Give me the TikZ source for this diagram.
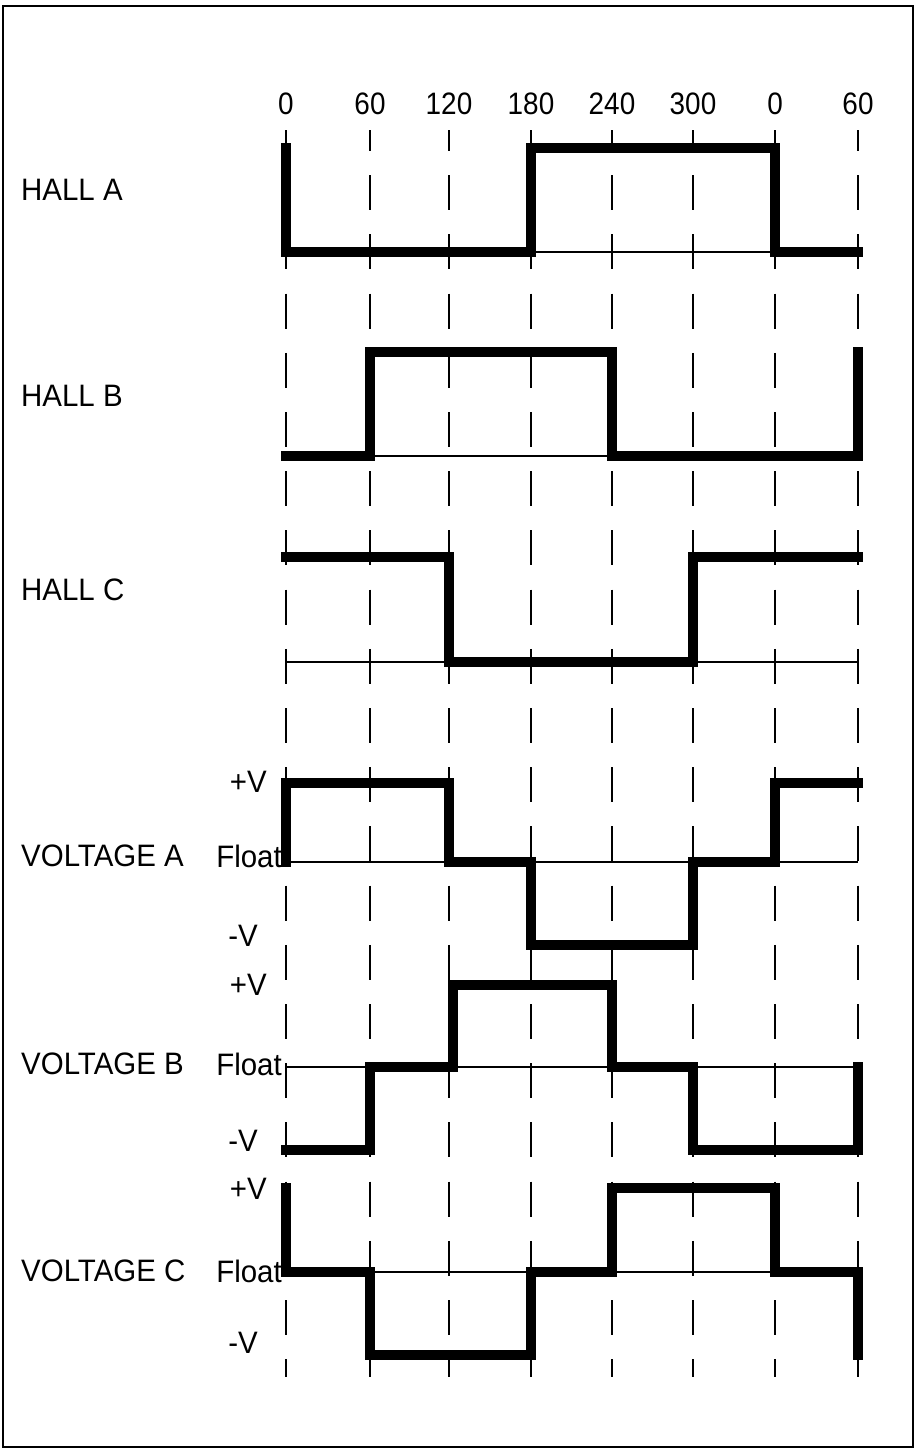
\documentclass[tikz,border=0pt]{standalone}
\usepackage{graphicx}
\usepackage{fontspec}
\setmainfont{Liberation Sans}
\newcommand{\lbltext}[1]{\scalebox{0.95}[1]{#1}}
\begin{document}
\begin{tikzpicture}[x=1pt,y=-1pt,
  wave/.style={line width=10pt, line join=miter, line cap=rect},
  base/.style={line width=1.4pt},
  gridline/.style={line width=1.5pt, dash pattern=on 35pt off 24.2pt, dash phase=14pt},
  lbl/.style={font=\fontsize{31}{31}\selectfont, inner sep=0pt},
  ]
\useasboundingbox (0,0) rectangle (919,1451);
\draw[line width=2pt] (3,6) rectangle (913,1447);
% ticks and dashed grid
\foreach \x/\t [count=\i] in {286/0,370/60,449/120,531/180,612/240,693/300,775/0,858/60}{
  \node[lbl] (t\i) at (\x,104) {\scalebox{0.9}[1]{\t}};
  \coordinate (gt\i) at (\x,130);
  \coordinate (gb\i) at (\x,1377);
  \draw[gridline] (gt\i) -- (gb\i);
}
% row labels
\node[lbl,anchor=west] (ha) at (21,190) {\lbltext{HALL A}};
\node[lbl,anchor=west] (hb) at (21,396) {\lbltext{HALL B}};
\node[lbl,anchor=west] (hc) at (21,590) {\lbltext{HALL C}};
\node[lbl,anchor=west] (va) at (21,856) {\lbltext{VOLTAGE A}};
\node[lbl,anchor=west] (vb) at (21,1064) {\lbltext{VOLTAGE B}};
\node[lbl,anchor=west] (vc) at (21,1271) {\lbltext{VOLTAGE C}};
\foreach \n/\p/\f/\m in {a/782/856/936, b/985/1064/1141, c/1189/1271/1343}{
  \node[lbl,anchor=east] (pv\n) at (267,\p) {\lbltext{+V}};
  \node[lbl,anchor=east] (fl\n) at (282,\f) {\lbltext{Float}};
  \node[lbl,anchor=east] (mv\n) at (258,\m) {\lbltext{-V}};
}
% baselines
\draw[base] (286,252) -- (858,252);
\draw[base] (286,456) -- (858,456);
\draw[base] (286,662) -- (858,662);
\draw[base] (286,862) -- (858,862);
\draw[base] (286,1067) -- (858,1067);
\draw[base] (286,1272) -- (858,1272);
% waveforms
\draw[wave] (286,148) -- (286,252) -- (531,252) -- (531,148) -- (775,148) -- (775,252) -- (858,252);
\draw[wave] (286,456) -- (370,456) -- (370,352) -- (612,352) -- (612,456) -- (858,456) -- (858,352);
\draw[wave] (286,557) -- (449,557) -- (449,662) -- (693,662) -- (693,557) -- (858,557);
\draw[wave] (286,862) -- (286,783) -- (449,783) -- (449,862) -- (531,862) -- (531,945) -- (693,945) -- (693,862) -- (775,862) -- (775,783) -- (858,783);
\draw[wave] (286,1150) -- (370,1150) -- (370,1067) -- (453,1067) -- (453,985) -- (612,985) -- (612,1067) -- (693,1067) -- (693,1150) -- (858,1150) -- (858,1067);
\draw[wave] (286,1188) -- (286,1272) -- (370,1272) -- (370,1355) -- (531,1355) -- (531,1272) -- (612,1272) -- (612,1188) -- (775,1188) -- (775,1272) -- (858,1272) -- (858,1355);
\end{tikzpicture}
\end{document}
